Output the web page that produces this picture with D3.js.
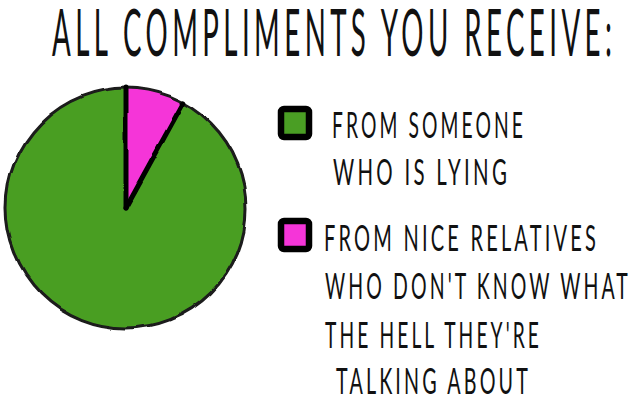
<!DOCTYPE html>
<html>
<head>
<meta charset="utf-8">
<script src="https://cdn.jsdelivr.net/npm/d3@7"></script>
<style>
  html, body { margin: 0; padding: 0; background: #fff; }
  svg { display: block; }
  text { font-family: "Lato", "Open Sans", "Liberation Sans", sans-serif; font-weight: 400; fill: #111; }
</style>
</head>
<body>
<svg id="chart" width="637" height="413"></svg>
<script>
// ---- data ----
const title = "ALL COMPLIMENTS YOU RECEIVE:";
const categories = ["FROM SOMEONE WHO IS LYING", "FROM NICE RELATIVES WHO DON'T KNOW WHAT THE HELL THEY'RE TALKING ABOUT"];
const shares = [92, 8];
const colors = ["#4a9e24", "#f535d8"];
const legendLines = [
  ["FROM SOMEONE", "WHO IS LYING"],
  ["FROM NICE RELATIVES", "WHO DON'T KNOW WHAT", "THE HELL THEY'RE", "TALKING ABOUT"]
];

const svg = d3.select("#chart");

// hand-drawn wobble
const defs = svg.append("defs");
const f = defs.append("filter").attr("id", "wobble").attr("x", "-5%").attr("y", "-5%").attr("width", "110%").attr("height", "110%");
f.append("feTurbulence").attr("type", "fractalNoise").attr("baseFrequency", 0.02).attr("numOctaves", 2).attr("seed", 3).attr("result", "n");
f.append("feDisplacementMap").attr("in", "SourceGraphic").attr("in2", "n").attr("scale", 6).attr("xChannelSelector", "R").attr("yChannelSelector", "G");

// condensed text helper: draw small, then scale to a target width and size
const BASE = 16;
function fitText(parent, str, x, y, size, width) {
  const t = parent.append("text")
    .attr("font-size", BASE)
    .attr("letter-spacing", BASE * 0.16)
    .text(str);
  const w = t.node().getComputedTextLength() - BASE * 0.16;
  const sx = width / w, sy = size / BASE;
  t.attr("transform", `translate(${x},${y}) scale(${sx},${sy})`);
  return t;
}

// title
fitText(svg, title, 52, 56, 65, 560);

// pie
const cx = 126, cy = 208, R = 120;
const total = d3.sum(shares);
const pinkStart = 2 * Math.PI * shares[1] / total;
const pie = d3.pie().sort(null).value(d => d).startAngle(pinkStart).endAngle(pinkStart + 2 * Math.PI);
const arcs = pie(shares);
const arc = d3.arc().innerRadius(0).outerRadius(R);

const g = svg.append("g").attr("transform", `translate(${cx},${cy})`).attr("filter", "url(#wobble)");
g.selectAll("path.slice").data(arcs).join("path")
  .attr("class", "slice")
  .attr("d", arc)
  .attr("fill", (d, i) => colors[i]);

g.append("circle").attr("r", R).attr("fill", "none").attr("stroke", "#1a1a1a").attr("stroke-width", 3);

const bounds = [arcs[0].startAngle, arcs[1].startAngle];
g.selectAll("line.bound").data(bounds).join("line")
  .attr("class", "bound")
  .attr("x1", 0).attr("y1", 0)
  .attr("x2", a => d3.pointRadial(a, R)[0])
  .attr("y2", a => d3.pointRadial(a, R)[1])
  .attr("stroke", "#000").attr("stroke-width", 5).attr("stroke-linecap", "round");

// legend
const boxY = [109, 221];
const lineBase = [[138, 185], [251, 299, 348, 394]];
const lineX = [[332, 333], [324, 325, 325, 336]];
const lineW = [[191, 174], [272, 303, 214, 192]];
const lg = svg.append("g");
categories.forEach((c, i) => {
  lg.append("rect")
    .attr("x", 281).attr("y", boxY[i])
    .attr("width", 28).attr("height", 28)
    .attr("rx", 3)
    .attr("fill", colors[i])
    .attr("stroke", "#000").attr("stroke-width", 6.5);
  legendLines[i].forEach((t, j) => {
    fitText(lg, t, lineX[i][j], lineBase[i][j], 37, lineW[i][j]);
  });
});
</script>
</body>
</html>
